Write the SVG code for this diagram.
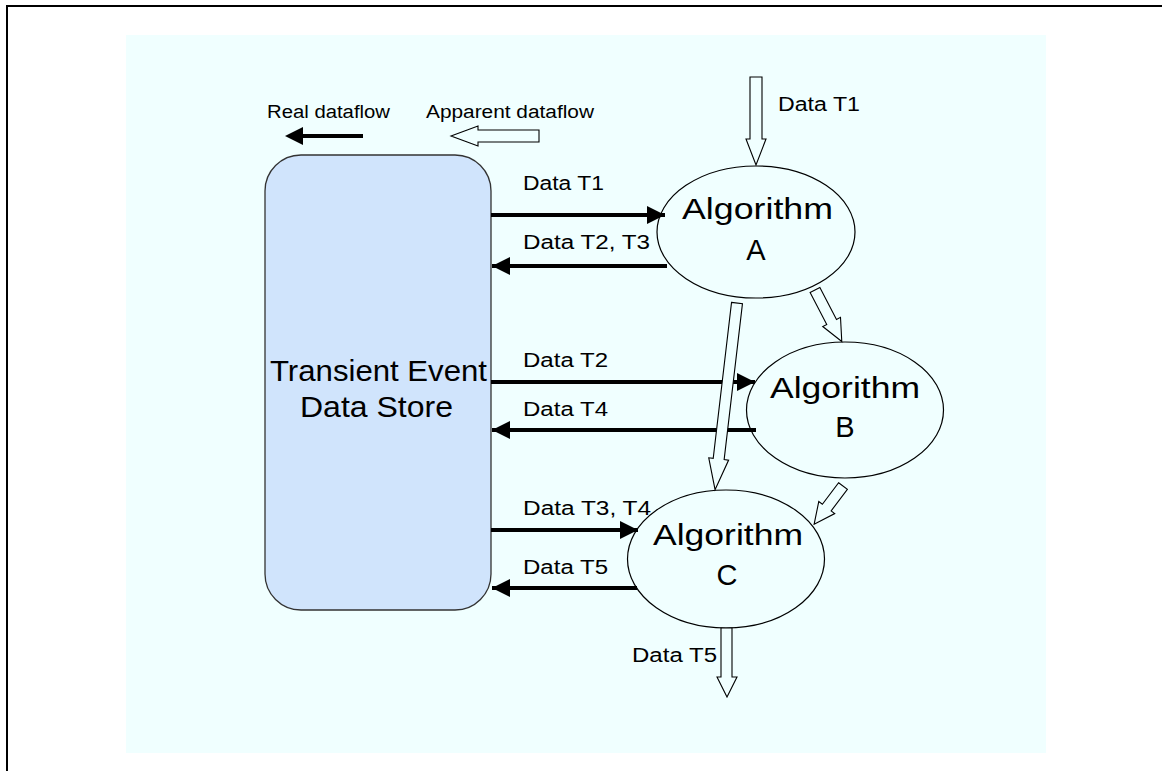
<svg xmlns="http://www.w3.org/2000/svg" width="1162" height="771" viewBox="0 0 1162 771">
<defs>
<style>
.t{font-family:"Liberation Sans",Arial,sans-serif;fill:#000}
.lbl{font-size:20px}
.leg{font-size:18px}
.big{font-size:29px}
.ell{fill:#F0FFFF;stroke:#000;stroke-width:1.2}
.hol{fill:#F0FFFF;stroke:#000;stroke-width:1.1;stroke-linejoin:miter}
.real{stroke:#000;stroke-width:4;fill:none}
</style>
<marker id="ah" viewBox="0 0 18 18" refX="18" refY="9" markerWidth="18" markerHeight="18" markerUnits="userSpaceOnUse" orient="auto">
<path d="M0,0 L18,9 L0,18 Z" fill="#000"/>
</marker>
</defs>
<rect x="0" y="0" width="1162" height="771" fill="#FFFFFF"/>
<path d="M7,771 L7,6 L1162,6" fill="none" stroke="#000" stroke-width="2"/>
<rect x="126" y="35" width="920" height="718" fill="#F0FFFF"/>

<g id="legend">
<text class="t leg" x="267" y="118" textLength="123" lengthAdjust="spacingAndGlyphs">Real dataflow</text>
<line class="real" x1="363" y1="136" x2="300" y2="136"/>
<path d="M285,136 L303,127 L303,145 Z" fill="#000"/>
<text class="t leg" x="426" y="118" textLength="168" lengthAdjust="spacingAndGlyphs">Apparent dataflow</text>
<path class="hol" d="M451,136 L478,126 L478,130 L539,130 L539,142 L478,142 L478,146 Z"/>
</g>

<g id="store">
<rect x="265" y="155" width="226" height="455" rx="36" ry="36" fill="#D0E4FC" stroke="#333" stroke-width="1.3"/>
<text class="t big" x="270" y="381" textLength="217" lengthAdjust="spacingAndGlyphs">Transient Event</text>
<text class="t big" x="300" y="417" textLength="153" lengthAdjust="spacingAndGlyphs">Data Store</text>
</g>

<g id="algA">
<ellipse class="ell" cx="756" cy="232" rx="99" ry="66"/>
<text class="t big" x="682" y="219" textLength="151" lengthAdjust="spacingAndGlyphs">Algorithm</text>
<text class="t big" x="756" y="260" text-anchor="middle">A</text>
</g>

<g id="algB">
<ellipse class="ell" cx="845" cy="410" rx="98.5" ry="68"/>
<text class="t big" x="770" y="398" textLength="150" lengthAdjust="spacingAndGlyphs">Algorithm</text>
<text class="t big" x="845" y="437" text-anchor="middle">B</text>
</g>

<g id="algC">
<ellipse class="ell" cx="726" cy="559" rx="98.5" ry="69"/>
<text class="t big" x="653" y="545" textLength="150" lengthAdjust="spacingAndGlyphs">Algorithm</text>
<text class="t big" x="727" y="585" text-anchor="middle">C</text>
</g>

<g id="connectors">
<path class="hol" d="M750,77 L762,77 L762,139 L766,139 L756,165 L746,139 L750,139 Z"/>
<text class="t lbl" x="778" y="111" textLength="82" lengthAdjust="spacingAndGlyphs">Data T1</text>

<line class="real" x1="491" y1="215" x2="665" y2="215" marker-end="url(#ah)"/>
<text class="t lbl" x="523" y="190" textLength="81" lengthAdjust="spacingAndGlyphs">Data T1</text>
<line class="real" x1="667" y1="266" x2="492" y2="266" marker-end="url(#ah)"/>
<text class="t lbl" x="523" y="249" textLength="127" lengthAdjust="spacingAndGlyphs">Data T2, T3</text>

<line class="real" x1="491" y1="382" x2="755" y2="382" marker-end="url(#ah)"/>
<text class="t lbl" x="523" y="367" textLength="85" lengthAdjust="spacingAndGlyphs">Data T2</text>
<line class="real" x1="756" y1="430" x2="492" y2="430" marker-end="url(#ah)"/>
<text class="t lbl" x="523" y="416" textLength="85" lengthAdjust="spacingAndGlyphs">Data T4</text>

<line class="real" x1="491" y1="530" x2="638" y2="530" marker-end="url(#ah)"/>
<text class="t lbl" x="523" y="515" textLength="128" lengthAdjust="spacingAndGlyphs">Data T3, T4</text>
<line class="real" x1="637" y1="588" x2="492" y2="588" marker-end="url(#ah)"/>
<text class="t lbl" x="523" y="574" textLength="85" lengthAdjust="spacingAndGlyphs">Data T5</text>

<path class="hol" transform="translate(737,303) rotate(6.7)" d="M-5.5,0 L5.5,0 L5.5,157 L10,157 L0,188 L-10,157 L-5.5,157 Z"/>
<path class="hol" transform="translate(815,290) rotate(-27.5)" d="M-5.5,0 L5.5,0 L5.5,36 L10,36 L0,58 L-10,36 L-5.5,36 Z"/>
<path class="hol" transform="translate(843,486) rotate(37)" d="M-5.5,0 L5.5,0 L5.5,27 L10,27 L0,48 L-10,27 L-5.5,27 Z"/>

<path class="hol" d="M721,628 L732,628 L732,677 L737,677 L727,697 L717,677 L721,677 Z"/>
<text class="t lbl" x="632" y="662" textLength="85" lengthAdjust="spacingAndGlyphs">Data T5</text>
</g>
</svg>
